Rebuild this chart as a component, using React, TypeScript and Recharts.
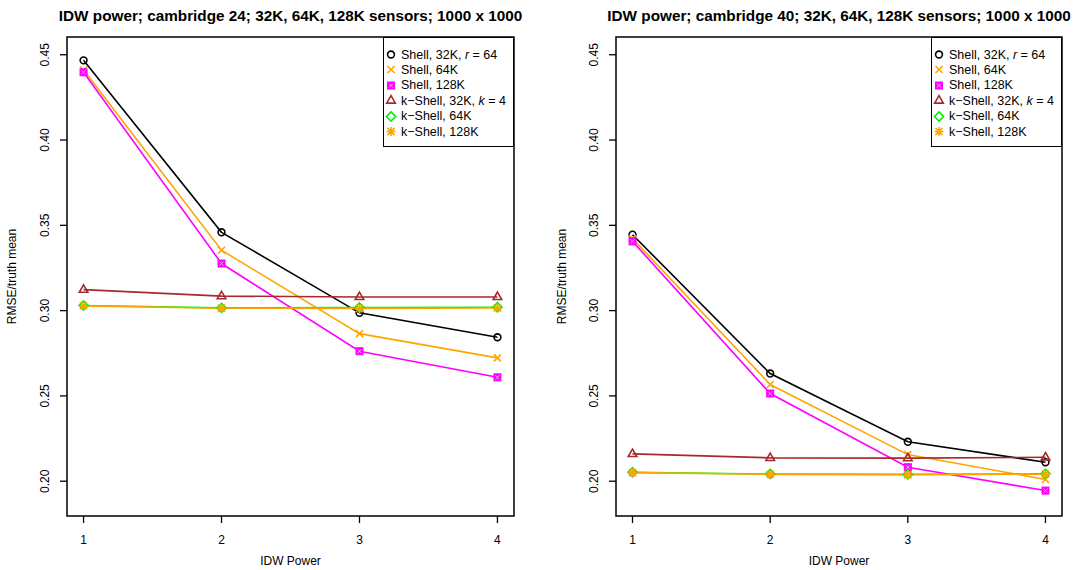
import React from "react";
import { LineChart, Line, XAxis, YAxis, ReferenceArea } from "recharts";

const powers = [1, 2, 3, 4];
const yTicks = [0.2, 0.25, 0.3, 0.35, 0.4, 0.45];

// cambridge 24
const c24Shell32 = [0.4467, 0.3459, 0.2987, 0.2844];
const c24Shell64 = [0.441, 0.3354, 0.2865, 0.2723];
const c24Shell128 = [0.4397, 0.3276, 0.2762, 0.2609];
const c24KShell32 = [0.3123, 0.3085, 0.308, 0.308];
const c24KShell64 = [0.303, 0.3016, 0.3018, 0.302];
const c24KShell128 = [0.3028, 0.3014, 0.3013, 0.3015];

// cambridge 40
const c40Shell32 = [0.3445, 0.2631, 0.2231, 0.2111];
const c40Shell64 = [0.3422, 0.2567, 0.2156, 0.201];
const c40Shell128 = [0.3406, 0.2514, 0.2082, 0.1945];
const c40KShell32 = [0.216, 0.2137, 0.2135, 0.214];
const c40KShell64 = [0.2052, 0.2042, 0.204, 0.2043];
const c40KShell128 = [0.205, 0.204, 0.2038, 0.2041];

const FONT = "'Liberation Sans', Arial, Helvetica, sans-serif";

const series = [
  { key: "s32", color: "#000000", shape: "circle" },
  { key: "s64", color: "#FFA500", shape: "cross" },
  { key: "s128", color: "#FF00FF", shape: "boxx" },
  { key: "k32", color: "#A52A2A", shape: "triangle" },
  { key: "k64", color: "#00EE00", shape: "diamond" },
  { key: "k128", color: "#FFA500", shape: "star" },
];

function buildRows(cols: number[][]) {
  return powers.map((p, i) => ({
    p,
    s32: cols[0][i],
    s64: cols[1][i],
    s128: cols[2][i],
    k32: cols[3][i],
    k64: cols[4][i],
    k128: cols[5][i],
  }));
}

const rows24 = buildRows([c24Shell32, c24Shell64, c24Shell128, c24KShell32, c24KShell64, c24KShell128]);
const rows40 = buildRows([c40Shell32, c40Shell64, c40Shell128, c40KShell32, c40KShell64, c40KShell128]);

function Marker({ shape, color, cx, cy }: { shape: string; color: string; cx: number; cy: number }) {
  const sw = 1.6;
  if (shape === "circle")
    return <circle cx={cx} cy={cy} r={3.4} fill="none" stroke={color} strokeWidth={sw} />;
  if (shape === "cross")
    return (
      <path
        d={`M${cx - 3.5},${cy - 3.5}L${cx + 3.5},${cy + 3.5}M${cx - 3.5},${cy + 3.5}L${cx + 3.5},${cy - 3.5}`}
        stroke={color}
        strokeWidth={sw}
      />
    );
  if (shape === "boxx")
    return (
      <g>
        <rect x={cx - 3.5} y={cy - 3.5} width={7} height={7} fill={color} stroke={color} strokeWidth={1} />
        <path
          d={`M${cx - 2},${cy - 2}L${cx + 2},${cy + 2}M${cx - 2},${cy + 2}L${cx + 2},${cy - 2}`}
          stroke="#ff9cff"
          strokeWidth={1}
        />
      </g>
    );
  if (shape === "triangle")
    return (
      <path
        d={`M${cx},${cy - 4.8}L${cx + 4.3},${cy + 2.6}L${cx - 4.3},${cy + 2.6}Z`}
        fill="none"
        stroke={color}
        strokeWidth={sw}
      />
    );
  if (shape === "diamond")
    return (
      <path
        d={`M${cx},${cy - 4.6}L${cx + 4.6},${cy}L${cx},${cy + 4.6}L${cx - 4.6},${cy}Z`}
        fill="none"
        stroke={color}
        strokeWidth={sw}
      />
    );
  return (
    <path
      d={`M${cx - 3.6},${cy - 3.6}L${cx + 3.6},${cy + 3.6}M${cx - 3.6},${cy + 3.6}L${cx + 3.6},${cy - 3.6}M${cx},${cy - 4.5}L${cx},${cy + 4.5}M${cx - 4.5},${cy}L${cx + 4.5},${cy}`}
      stroke={color}
      strokeWidth={sw}
    />
  );
}

const legendItems = [
  { shape: "circle", color: "#000000", label: <>Shell, 32K, <i>r</i> = 64</> },
  { shape: "cross", color: "#FFA500", label: <>Shell, 64K</> },
  { shape: "boxx", color: "#FF00FF", label: <>Shell, 128K</> },
  { shape: "triangle", color: "#A52A2A", label: <>k−Shell, 32K, <i>k</i> = 4</> },
  { shape: "diamond", color: "#00EE00", label: <>k−Shell, 64K</> },
  { shape: "star", color: "#FFA500", label: <>k−Shell, 128K</> },
];

function LegendBox({ left }: { left: number }) {
  return (
    <div
      style={{
        position: "absolute",
        left,
        top: 37,
        width: 129,
        height: 108,
        border: "1px solid #000",
        background: "#fff",
        fontFamily: FONT,
        fontSize: 12.5,
        color: "#000",
      }}
    >
      {legendItems.map((it, i) => (
        <div
          key={i}
          style={{ position: "absolute", left: 0, top: 9 + i * 15.4, height: 15, display: "flex", alignItems: "center" }}
        >
          <svg width={16} height={15} style={{ marginLeft: 0 }}>
            <Marker shape={it.shape} color={it.color} cx={7} cy={7.5} />
          </svg>
          <span style={{ marginLeft: 1, whiteSpace: "nowrap" }}>{it.label}</span>
        </div>
      ))}
    </div>
  );
}

function YTick(props: any) {
  const { x, y, payload } = props;
  const cx = x - 13;
  return (
    <text
      x={cx}
      y={y}
      transform={`rotate(-90 ${cx} ${y})`}
      textAnchor="middle"
      dominantBaseline="central"
      fontSize={12}
      fontFamily={FONT}
      fill="#000"
    >
      {payload.value.toFixed(2)}
    </text>
  );
}

function Panel({
  rows,
  title,
  left,
  width,
  yAxisWidth,
  marginRight,
  labelOffset,
}: {
  rows: any[];
  title: string;
  left: number;
  width: number;
  yAxisWidth: number;
  marginRight: number;
  labelOffset: number;
}) {
  const plotLeft = yAxisWidth;
  const plotRight = width - marginRight;
  return (
    <div style={{ position: "absolute", left, top: 0, width, height: 570 }}>
      <div
        style={{
          position: "absolute",
          top: 6,
          left: (plotLeft + plotRight) / 2 - 300,
          width: 600,
          textAlign: "center",
          fontFamily: FONT,
          fontWeight: "bold",
          fontSize: 15.3,
          lineHeight: "19px",
          whiteSpace: "nowrap",
        }}
      >
        {title}
      </div>
      <LineChart width={width} height={570} data={rows} margin={{ top: 37, right: marginRight, bottom: 0, left: 0 }}>
        <XAxis
          dataKey="p"
          type="number"
          domain={[0.88, 4.12]}
          ticks={powers}
          allowDataOverflow
          axisLine={false}
          tickSize={7}
          tickMargin={12}
          tickLine={{ stroke: "#000", strokeWidth: 1.3 }}
          tick={{ fill: "#000", fontSize: 12, fontFamily: FONT }}
          height={54}
          label={{ value: "IDW Power", position: "insideBottom", offset: 5, fill: "#000", fontSize: 12, fontFamily: FONT }}
        />
        <YAxis
          type="number"
          domain={[0.1796, 0.4604]}
          ticks={yTicks}
          allowDataOverflow
          axisLine={false}
          tickSize={7}
          tickLine={{ stroke: "#000", strokeWidth: 1.3 }}
          tick={<YTick />}
          width={yAxisWidth}
          label={{
            value: "RMSE/truth mean",
            angle: -90,
            position: "insideLeft",
            offset: labelOffset,
            fill: "#000",
            fontSize: 12,
            fontFamily: FONT,
            style: { textAnchor: "middle" },
          }}
        />
        <ReferenceArea x1={0.88} x2={4.12} y1={0.1796} y2={0.4604} fill="none" stroke="#000" strokeWidth={1.5} ifOverflow="visible" />
        {series.map((s) => (
          <Line
            key={s.key}
            dataKey={s.key}
            stroke={s.color}
            strokeWidth={1.6}
            isAnimationActive={false}
            dot={(p: any) => <Marker key={`${s.key}-${p.index}`} shape={s.shape} color={s.color} cx={p.cx} cy={p.cy} />}
            activeDot={false}
          />
        ))}
      </LineChart>
      <LegendBox left={plotRight - 131} />
    </div>
  );
}

export default function App() {
  return (
    <div style={{ position: "absolute", left: 0, top: 0, width: 1079, height: 570, background: "#fff", overflow: "hidden" }}>
      <Panel
        rows={rows24}
        title="IDW power; cambridge 24; 32K, 64K, 128K sensors; 1000 x 1000"
        left={0}
        width={540}
        yAxisWidth={67}
        marginRight={26}
        labelOffset={12}
      />
      <Panel
        rows={rows40}
        title="IDW power; cambridge 40; 32K, 64K, 128K sensors; 1000 x 1000"
        left={540}
        width={539}
        yAxisWidth={76}
        marginRight={17}
        labelOffset={22}
      />
    </div>
  );
}
